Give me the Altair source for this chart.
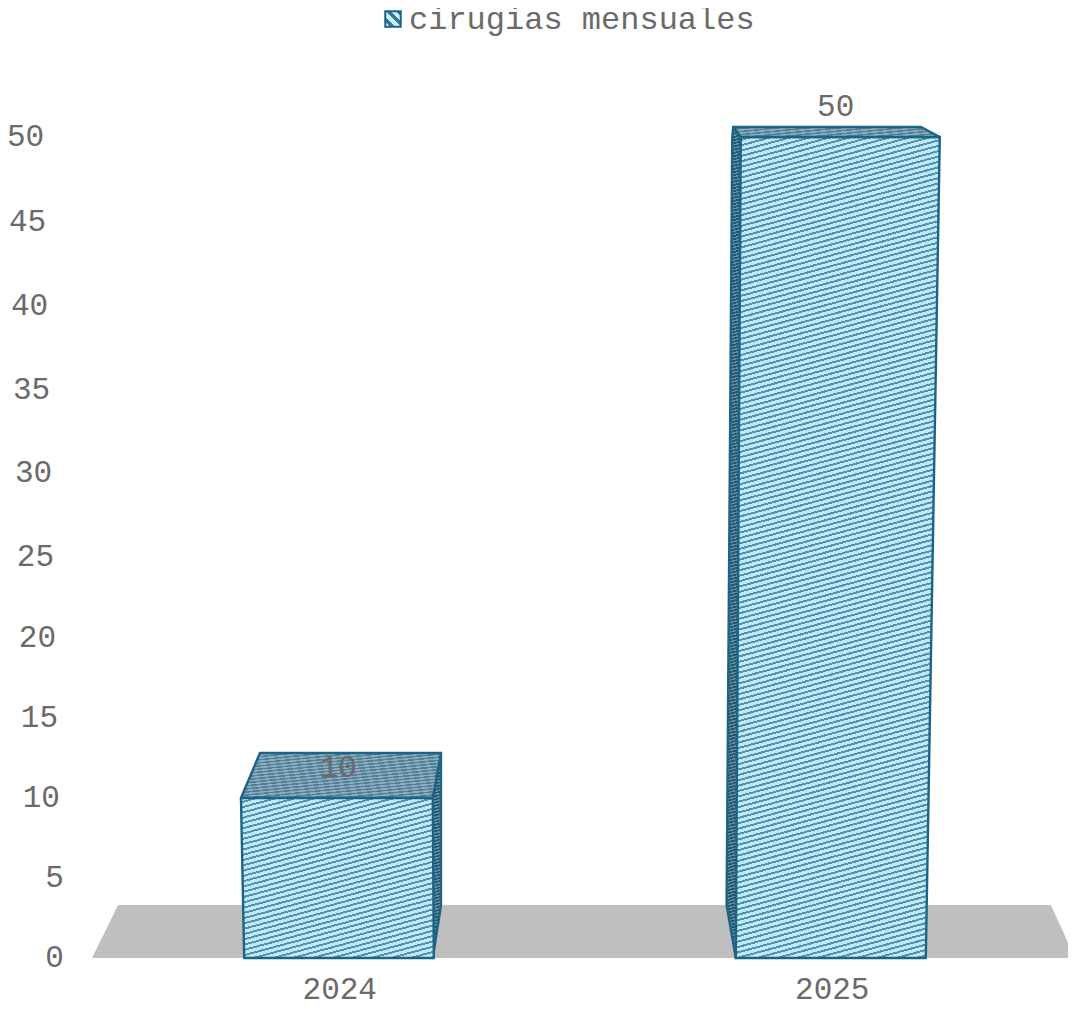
import json
import altair as alt
import numpy as np
import pandas as pd

SERIES = "cirugias mensuales"
CATEGORIES = ["2024", "2025"]
VALUES = [10, 50]

TICKS = [0, 5, 10, 15, 20, 25, 30, 35, 40, 45, 50]
TICK_LABEL_X = [-0.557, -0.557, -0.565, -0.569, -0.573, -0.577, -0.581, -0.585, -0.589, -0.593, -0.597]
Y_RANGE = [950, 870, 790, 710, 630, 549, 465, 382, 298, 214, 129]
X_DOMAIN = [-0.5, 1.5]
X_RANGE = [84, 1069]
LABEL_X = [0.0, 1.01]

# floor
FLOOR_Y = [0, 3.31]
FLOOR_L = [-0.5, -0.447]
FLOOR_R = [1.496, 1.447]

# bar 2024
A_FRONT_Y = [0, 10]
A_FRONT_L = [-0.191, -0.1975]
A_FRONT_R = [0.194, 0.192]
A_TOP_Y = [10, 12.81]
A_TOP_L = [-0.1975, -0.159]
A_TOP_R = [0.192, 0.2086]
A_SIDE_X = [0.192, 0.2086]
A_SIDE_LOW = [0, 3.31]
A_SIDE_HIGH = [10, 12.81]

# bar 2025
B_FRONT_Y = [0, 50]
B_FRONT_L = [0.8072, 0.8173]
B_FRONT_R = [1.193, 1.2214]
B_TOP_Y = [50, 50.59]
B_TOP_L = [0.8173, 0.802]
B_TOP_R = [1.2214, 1.1835]
B_SIDE_Y = [0, 3.31, 50, 50.59]
B_SIDE_L = [0.8072, 0.7885, 0.8, 0.802]
B_SIDE_R = [0.8072, 0.809, 0.8173, 0.802]

FONT = "Liberation Mono"
TEXT = "#6a6a6a"
EDGE = "#1d6386"
FS = 31

x_scale = alt.Scale(domain=X_DOMAIN, range=X_RANGE, nice=False, zero=False)
y_scale = alt.Scale(domain=TICKS, range=Y_RANGE, nice=False, zero=False)
x_axis = alt.Axis(
    values=[0, 1],
    labelExpr="datum.value == 0 ? '%s' : '%s'" % (CATEGORIES[0], CATEGORIES[1]),
    domain=False,
    ticks=False,
    grid=False,
    title=None,
    labelFont=FONT,
    labelFontSize=FS,
    labelColor=TEXT,
    labelPadding=16,
    labelOffset=1,
    labelFlush=False,
    labelOverlap=False,
    labelAngle=0,
)


def px_size(xs, ys):
    w = (max(xs) - min(xs)) * (X_RANGE[1] - X_RANGE[0]) / (X_DOMAIN[1] - X_DOMAIN[0])
    py = np.interp(ys, TICKS, Y_RANGE)
    py = [p if v <= 50 else Y_RANGE[-1] - (v - 50) * 17 for p, v in zip(py, ys)]
    return max(w, 1), max(max(py) - min(py), 1)


def hatch(w, h, light, dark, period=5.4, slope=0.27, dark_share=0.38):
    k = (slope * w + h) / (slope ** 2 * w ** 2 + h ** 2)
    n = int(np.ceil((slope * w + h) / period))
    stops = []
    for i in range(n):
        a, b, c = i / n, (i + 1 - dark_share) / n, (i + 1) / n
        stops += [
            alt.GradientStop(offset=round(a, 5), color=light),
            alt.GradientStop(offset=round(b, 5), color=light),
            alt.GradientStop(offset=round(b, 5), color=dark),
            alt.GradientStop(offset=round(c, 5), color=dark),
        ]
    return alt.LinearGradient(gradient="linear", stops=stops, x1=0, y1=0, x2=k * slope * w, y2=k * h)


def hface(ys, ls, rs, fill, strokewidth=2.4, stroke=EDGE):
    df = pd.DataFrame({"y": ys, "l": ls, "r": rs})
    return alt.Chart(df).mark_area(
        orient="horizontal", fill=fill, stroke=stroke, strokeWidth=strokewidth, strokeJoin="round"
    ).encode(
        y=alt.Y("y:Q", scale=y_scale, axis=None),
        x=alt.X("l:Q", scale=x_scale, axis=x_axis),
        x2="r:Q",
    )


def vface(xs, lows, highs, fill):
    df = pd.DataFrame({"x": xs, "lo": lows, "hi": highs})
    return alt.Chart(df).mark_area(
        orient="vertical", fill=fill, stroke=EDGE, strokeWidth=2.4, strokeJoin="round"
    ).encode(
        x=alt.X("x:Q", scale=x_scale, axis=x_axis),
        y=alt.Y("lo:Q", scale=y_scale, axis=None),
        y2="hi:Q",
    )


LIGHT, DARK = "#c0e8f8", "#4f93ad"
TOP_L, TOP_D = "#86adbf", "#587f94"
SIDE_L, SIDE_D = "#5f8ea4", "#27566f"


def front(ys, ls, rs):
    w, h = px_size(ls + rs, ys)
    return hface(ys, ls, rs, hatch(w, h, LIGHT, DARK))


def top(ys, ls, rs):
    w, h = px_size(ls + rs, ys)
    return hface(ys, ls, rs, hatch(w, h, TOP_L, TOP_D, period=3.2, slope=0.1, dark_share=0.5))


floor = hface(FLOOR_Y, FLOOR_L, FLOOR_R, "#bfbfbf", strokewidth=0, stroke="#bfbfbf")

w_a, h_a = px_size(A_SIDE_X, A_SIDE_LOW + A_SIDE_HIGH)
side_a = vface(A_SIDE_X, A_SIDE_LOW, A_SIDE_HIGH, hatch(w_a, h_a, SIDE_L, SIDE_D, period=3.2, dark_share=0.5))
w_b, h_b = px_size(B_SIDE_L + B_SIDE_R, B_SIDE_Y)
side_b = hface(B_SIDE_Y, B_SIDE_L, B_SIDE_R, hatch(w_b, h_b, SIDE_L, SIDE_D, period=3.2, dark_share=0.55))

swatch_stops = [{"offset": o, "color": c} for o, c in [
    (0, "#2f7d9e"), (0.16, "#2f7d9e"), (0.16, "#d5effa"), (0.33, "#d5effa"), (0.33, "#2f7d9e"), (0.5, "#2f7d9e"),
    (0.5, "#d5effa"), (0.67, "#d5effa"), (0.67, "#2f7d9e"), (0.84, "#2f7d9e"), (0.84, "#d5effa"), (1, "#d5effa"),
]]
swatch = {"gradient": "linear", "x1": 1, "y1": 0, "x2": 0, "y2": 1, "stops": swatch_stops}

axis_layer = alt.Chart(pd.DataFrame({"cat": [0, 1], "serie": [SERIES, SERIES], "v": VALUES})).mark_point(
    opacity=0, size=1, filled=True
).encode(
    x=alt.X("cat:Q", scale=x_scale, axis=x_axis),
    y=alt.Y("v:Q", scale=y_scale, axis=None),
    fill=alt.Fill(
        "serie:N",
        scale=alt.Scale(domain=[SERIES], range=[alt.ExprRef(json.dumps(swatch))]),
        legend=alt.Legend(
            title=None,
            orient="none",
            legendX=369,
            legendY=-5,
            symbolType="square",
            symbolSize=240,
            symbolStrokeColor=EDGE,
            symbolStrokeWidth=2,
            symbolOpacity=1,
            labelFont=FONT,
            labelFontSize=32,
            labelColor=TEXT,
            labelOffset=0,
            labelLimit=0,
        ),
    ),
)

tick_text = alt.Chart(pd.DataFrame({"t": TICKS, "x": TICK_LABEL_X})).mark_text(
    font=FONT, fontSize=FS, color=TEXT, align="right", baseline="middle"
).encode(
    x=alt.X("x:Q", scale=x_scale, axis=x_axis),
    y=alt.Y("t:Q", scale=y_scale, axis=None),
    text=alt.Text("t:Q"),
)

value_text = alt.Chart(pd.DataFrame({"x": LABEL_X, "v": VALUES})).mark_text(
    font=FONT, fontSize=FS, color=TEXT, align="center", baseline="middle", dy=-30
).encode(
    x=alt.X("x:Q", scale=x_scale, axis=x_axis),
    y=alt.Y("v:Q", scale=y_scale, axis=None),
    text=alt.Text("v:Q"),
)

chart = alt.layer(
    axis_layer,
    floor,
    side_b,
    front(B_FRONT_Y, B_FRONT_L, B_FRONT_R),
    top(B_TOP_Y, B_TOP_L, B_TOP_R),
    side_a,
    top(A_TOP_Y, A_TOP_L, A_TOP_R),
    front(A_FRONT_Y, A_FRONT_L, A_FRONT_R),
    tick_text,
    value_text,
).properties(
    width=1060,
    height=950,
    padding={"left": 0, "top": 0, "right": 0, "bottom": 43},
    autosize=alt.AutoSizeParams(type="none"),
).configure_view(stroke=None)

chart.save("out.html", embed_options={"renderer": "svg", "actions": False})
